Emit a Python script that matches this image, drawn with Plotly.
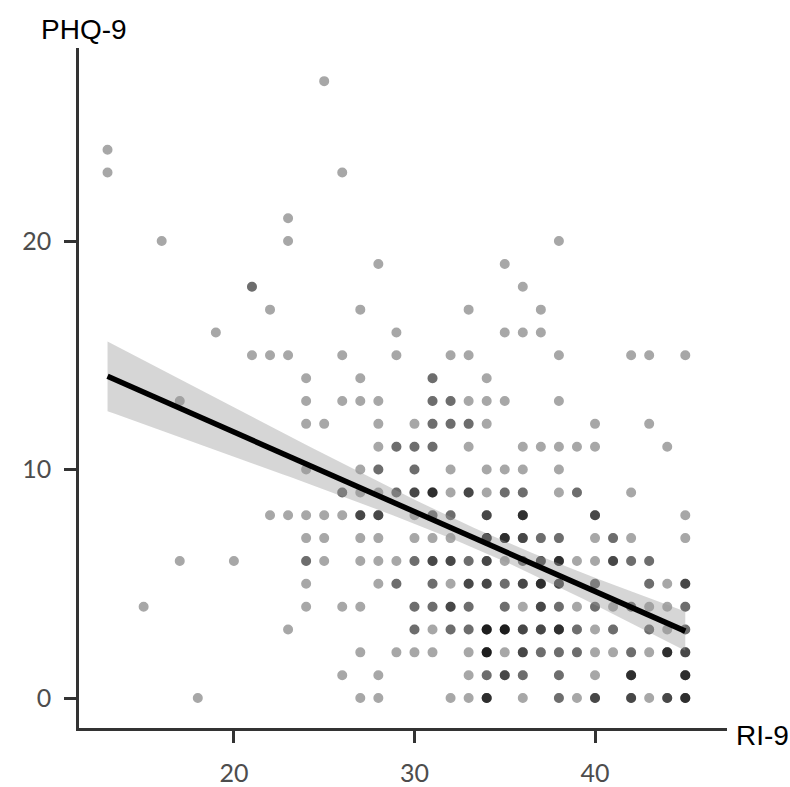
import numpy as np
import plotly.graph_objects as go

# ---- data: (RI-9 score, PHQ-9 score, number of respondents at that point) ----
ri9 = [25, 13, 13, 26, 23, 16, 23, 38, 28, 35, 21, 36, 22, 27, 33, 37, 19, 29, 35, 36, 37,
       21, 22, 23, 26, 29, 32, 33, 38, 42, 43, 45,
       24, 27, 31, 34,
       17, 24, 26, 27, 28, 31, 32, 33, 34, 35, 38,
       24, 25, 28, 30, 31, 32, 33, 34, 40, 43,
       28, 29, 30, 31, 33, 36, 37, 38, 39, 40, 44,
       24, 27, 28, 30, 32, 34, 35, 36, 38,
       26, 27, 28, 29, 30, 31, 32, 33, 34, 35, 36, 38, 39, 42,
       22, 23, 24, 25, 26, 27, 28, 30, 31, 32, 34, 36, 40, 45,
       24, 25, 27, 28, 30, 31, 32, 34, 35, 36, 37, 38, 40, 41, 42, 45,
       17, 20, 24, 25, 27, 28, 29, 30, 31, 32, 33, 34, 35, 36, 37, 38, 39, 40, 41, 42, 43,
       24, 28, 29, 31, 32, 33, 34, 35, 36, 37, 38, 40, 43, 44, 45,
       15, 24, 26, 27, 30, 31, 32, 33, 35, 36, 37, 38, 39, 40, 41, 42, 43, 44, 45,
       23, 30, 31, 32, 33, 34, 35, 36, 37, 38, 39, 40, 41, 43, 44, 45,
       27, 29, 30, 31, 33, 34, 35, 36, 37, 38, 39, 40, 41, 42, 43, 44, 45,
       26, 28, 33, 34, 35, 36, 38, 40, 42, 45,
       18, 27, 28, 32, 33, 34, 36, 38, 39, 40, 42, 43, 44, 45]
phq9 = [27, 24, 23, 23, 21, 20, 20, 20, 19, 19, 18, 18, 17, 17, 17, 17, 16, 16, 16, 16, 16,
        15, 15, 15, 15, 15, 15, 15, 15, 15, 15, 15,
        14, 14, 14, 14,
        13, 13, 13, 13, 13, 13, 13, 13, 13, 13, 13,
        12, 12, 12, 12, 12, 12, 12, 12, 12, 12,
        11, 11, 11, 11, 11, 11, 11, 11, 11, 11, 11,
        10, 10, 10, 10, 10, 10, 10, 10, 10,
        9, 9, 9, 9, 9, 9, 9, 9, 9, 9, 9, 9, 9, 9,
        8, 8, 8, 8, 8, 8, 8, 8, 8, 8, 8, 8, 8, 8,
        7, 7, 7, 7, 7, 7, 7, 7, 7, 7, 7, 7, 7, 7, 7, 7,
        6, 6, 6, 6, 6, 6, 6, 6, 6, 6, 6, 6, 6, 6, 6, 6, 6, 6, 6, 6, 6,
        5, 5, 5, 5, 5, 5, 5, 5, 5, 5, 5, 5, 5, 5, 5,
        4, 4, 4, 4, 4, 4, 4, 4, 4, 4, 4, 4, 4, 4, 4, 4, 4, 4, 4,
        3, 3, 3, 3, 3, 3, 3, 3, 3, 3, 3, 3, 3, 3, 3, 3,
        2, 2, 2, 2, 2, 2, 2, 2, 2, 2, 2, 2, 2, 2, 2, 2, 2,
        1, 1, 1, 1, 1, 1, 1, 1, 1, 1,
        0, 0, 0, 0, 0, 0, 0, 0, 0, 0, 0, 0, 0, 0]
count = [1, 1, 1, 1, 1, 1, 1, 1, 1, 1, 2, 1, 1, 1, 1, 1, 1, 1, 1, 1, 1,
         1, 1, 1, 1, 1, 1, 1, 1, 1, 1, 1,
         1, 1, 2, 1,
         1, 1, 1, 1, 1, 2, 2, 1, 1, 1, 1,
         1, 1, 1, 1, 2, 2, 2, 1, 1, 1,
         1, 2, 2, 2, 1, 1, 1, 1, 1, 1, 1,
         1, 1, 2, 2, 1, 1, 1, 1, 1,
         2, 1, 1, 2, 3, 4, 1, 3, 1, 2, 2, 1, 2, 1,
         1, 1, 1, 1, 1, 3, 3, 1, 2, 2, 3, 4, 3, 1,
         1, 1, 1, 1, 1, 1, 1, 4, 4, 3, 2, 2, 1, 2, 1, 1,
         1, 1, 2, 1, 1, 1, 1, 2, 3, 3, 2, 3, 1, 2, 3, 4, 1, 1, 3, 2, 2,
         1, 1, 2, 2, 1, 3, 3, 2, 3, 4, 3, 2, 2, 1, 3,
         1, 1, 1, 1, 2, 2, 3, 2, 2, 1, 3, 2, 1, 2, 1, 2, 1, 1, 2,
         1, 2, 1, 2, 2, 5, 5, 3, 3, 4, 2, 1, 2, 2, 1, 2,
         1, 1, 1, 1, 1, 5, 1, 3, 2, 2, 2, 1, 1, 2, 1, 4, 3,
         1, 1, 1, 2, 3, 2, 2, 1, 4, 4,
         1, 1, 1, 1, 1, 4, 1, 2, 1, 3, 3, 1, 3, 4]

x_ticks = [20, 30, 40]
y_ticks = [0, 10, 20]

# ---- expand to individual observations ----
x_obs = np.repeat(np.array(ri9, dtype=float), count)
y_obs = np.repeat(np.array(phq9, dtype=float), count)

# ---- linear fit with 95% confidence band ----
n = len(x_obs)
slope, intercept = np.polyfit(x_obs, y_obs, 1)
resid = y_obs - (intercept + slope * x_obs)
sigma = np.sqrt(np.sum(resid ** 2) / (n - 2))
xbar = x_obs.mean()
sxx = np.sum((x_obs - xbar) ** 2)
xs = np.linspace(x_obs.min(), x_obs.max(), 80)
ys = intercept + slope * xs
se = sigma * np.sqrt(1.0 / n + (xs - xbar) ** 2 / sxx)
tq = 1.97
lo = ys - tq * se
hi = ys + tq * se

fig = go.Figure()
fig.add_trace(go.Scatter(
    x=x_obs, y=y_obs, mode="markers",
    marker=dict(size=8.5, color="black", opacity=0.34,
                line=dict(color="black", width=1.5)),
    hoverinfo="skip", showlegend=False))
fig.add_trace(go.Scatter(
    x=np.concatenate([xs, xs[::-1]]), y=np.concatenate([hi, lo[::-1]]),
    mode="lines", fill="toself", fillcolor="rgba(153,153,153,0.4)",
    line=dict(width=0), hoverinfo="skip", showlegend=False))
fig.add_trace(go.Scatter(
    x=xs, y=ys, mode="lines", line=dict(color="black", width=5.5),
    hoverinfo="skip", showlegend=False))

tickfont = dict(family="Lato, Roboto, sans-serif", size=25, color="#4d4d4d")
fig.update_layout(
    width=790, height=787,
    margin=dict(l=79, r=63, t=48, b=59, autoexpand=False),
    paper_bgcolor="white", plot_bgcolor="white",
    xaxis=dict(range=[11.42, 47.31], tickvals=x_ticks, ticks="outside", ticklen=12,
               tickwidth=2.5, tickcolor="#333333", showline=True, linecolor="#333333",
               linewidth=2.5, showgrid=False, zeroline=False, tickfont=tickfont,
               ticklabelstandoff=9, automargin=False),
    yaxis=dict(range=[-1.31, 28.45], tickvals=y_ticks, ticks="outside", ticklen=12,
               tickwidth=2.5, tickcolor="#333333", showline=True, linecolor="#333333",
               linewidth=2.5, showgrid=False, zeroline=False, tickfont=tickfont,
               ticklabelstandoff=8, automargin=False),
    annotations=[
        dict(text="PHQ-9", xref="paper", yref="paper", x=0.0, y=1.0, xshift=-40, yshift=19,
             xanchor="left", yanchor="middle", showarrow=False,
             font=dict(family="Liberation Sans, Arial, sans-serif", size=28, color="black")),
        dict(text="RI-9", xref="paper", yref="paper", x=1.0, y=0.0, xshift=7, yshift=-7,
             xanchor="left", yanchor="middle", showarrow=False,
             font=dict(family="Liberation Sans, Arial, sans-serif", size=28, color="black")),
    ],
)
fig.write_html(
    "out.html",
    config={"displayModeBar": False},
    post_script="document.body.style.margin='0';document.body.style.overflow='hidden';",
)
